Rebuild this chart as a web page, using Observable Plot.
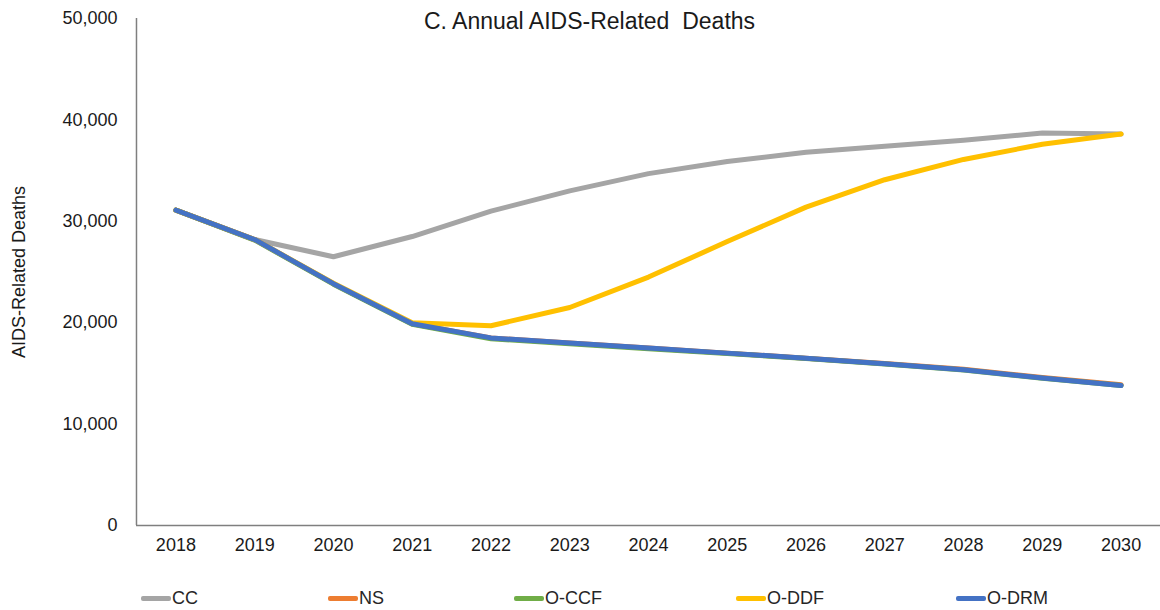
<!DOCTYPE html>
<html>
<head>
<meta charset="utf-8">
<script src="https://cdn.jsdelivr.net/npm/d3@7"></script>
<script src="https://cdn.jsdelivr.net/npm/@observablehq/plot@0.6"></script>
<style>
  html, body { margin: 0; padding: 0; background: #fff; }
  body { width: 1160px; height: 610px; overflow: hidden; font-family: "Liberation Sans", Arial, sans-serif; }
  #chart { position: relative; width: 1160px; }
  #legend { position: relative; width: 1160px; height: 40px; }
  .item { position: absolute; top: 8px; height: 40px; display: flex; align-items: center; font-size: 18px; color: #262626; }
  .sw { width: 30px; height: 5px; border-radius: 2px; margin-right: 1px; }
</style>
</head>
<body>
<div id="chart"></div>
<div id="legend"></div>
<script>
const years = ["2018","2019","2020","2021","2022","2023","2024","2025","2026","2027","2028","2029","2030"];
const seriesNames = ["CC", "NS", "O-CCF", "O-DDF", "O-DRM"];
const seriesColors = ["#A5A5A5", "#ED7D31", "#70AD47", "#FFC000", "#4472C4"];
const cc    = [31100, 28200, 26500, 28500, 31000, 33000, 34700, 35900, 36800, 37400, 38000, 38700, 38600];
const ns    = [31100, 28200, 23850, 19900, 18500, 18000, 17500, 17000, 16500, 15980, 15400, 14600, 13880];
const occf  = [31100, 28150, 23800, 19850, 18420, 17920, 17430, 16960, 16470, 15930, 15330, 14530, 13800];
const oddf  = [31100, 28200, 23900, 20000, 19700, 21500, 24500, 28000, 31400, 34100, 36100, 37600, 38600];
const odrm  = [31100, 28200, 23850, 19900, 18500, 18000, 17500, 17000, 16500, 15950, 15350, 14550, 13800];
const yTicks = [0, 10000, 20000, 30000, 40000, 50000];
const titleText = "C. Annual AIDS-Related\u00A0 Deaths";
const yLabel = "AIDS-Related Deaths";

const seriesValues = [cc, ns, occf, oddf, odrm];
const rows = [];
seriesNames.forEach((name, i) => {
  years.forEach((yr, j) => rows.push({series: name, year: yr, value: seriesValues[i][j]}));
});

const fmt = d3.format(",");

const chart = Plot.plot({
  width: 1160,
  height: 570,
  marginLeft: 136,
  marginRight: 0,
  marginTop: 18,
  marginBottom: 45,
  style: {fontFamily: "'Liberation Sans', Arial, sans-serif", fontSize: "18px", color: "#1a1a1a", background: "#fff"},
  x: {type: "point", domain: years, padding: 0.5, round: false},
  y: {domain: [0, 50000]},
  color: {domain: seriesNames, range: seriesColors},
  marks: [
    Plot.axisX({tickSize: 0, tickPadding: 13, fontSize: 18, label: null}),
    Plot.axisY({ticks: yTicks, tickFormat: fmt, tickSize: 0, tickPadding: 19, fontSize: 18,
      label: yLabel, labelAnchor: "center", labelArrow: "none", labelOffset: 124}),
    Plot.ruleX([years[0]], {stroke: "#7f7f7f", strokeWidth: 1.5, dx: -39.4, y1: 0, y2: 50000}),
    Plot.ruleY([0], {stroke: "#7f7f7f", strokeWidth: 1.5}),
    Plot.line(rows, {x: "year", y: "value", z: "series", stroke: "series", strokeWidth: 5,
      strokeLinecap: "round", strokeLinejoin: "round"}),
    Plot.text([titleText], {frameAnchor: "top", lineAnchor: "middle", dy: 3, dx: -59, fontSize: 23, fill: "#1a1a1a"})
  ]
});
document.getElementById("chart").appendChild(chart);

const legendX = [141, 328, 514, 736, 956];
const legend = document.getElementById("legend");
seriesNames.forEach((name, i) => {
  const item = document.createElement("div");
  item.className = "item";
  item.style.left = legendX[i] + "px";
  const sw = document.createElement("span");
  sw.className = "sw";
  sw.style.background = seriesColors[i];
  const t = document.createElement("span");
  t.textContent = name;
  item.appendChild(sw);
  item.appendChild(t);
  legend.appendChild(item);
});
</script>
</body>
</html>
